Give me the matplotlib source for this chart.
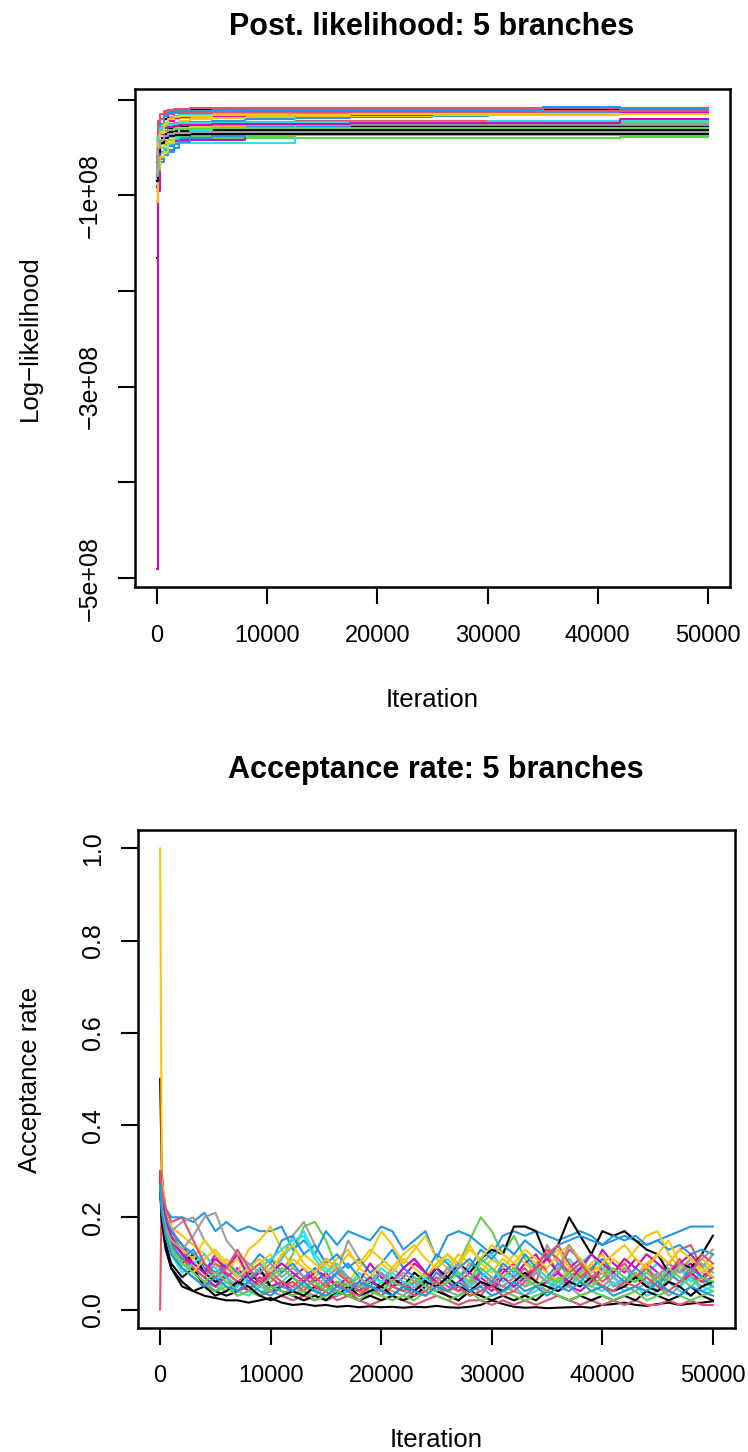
import matplotlib
matplotlib.use("Agg")
import matplotlib.pyplot as plt
from matplotlib import font_manager

# ---------------- data ----------------
r_palette = ["#000000", "#DF536B", "#61D04F", "#2297E6",
             "#28E2E5", "#CD0BBC", "#F5C710", "#9E9E9E"]

x_ticks = [0, 10000, 20000, 30000, 40000, 50000]
ll_yticks = [0, -1e8, -2e8, -3e8, -4e8, -5e8]
ll_ytick_labels = ["", "\u22121e+08", "", "\u22123e+08", "", "\u22125e+08"]
acc_yticks = [0.0, 0.2, 0.4, 0.6, 0.8, 1.0]
acc_ytick_labels = ["0.0", "0.2", "0.4", "0.6", "0.8", "1.0"]

# log-likelihood traces (units of 1e8), sampled at ll_iter, drawn as steps
ll_iter = [0, 100, 300, 600, 1000, 1500, 2000, 3000, 5000, 8000,
           12500, 17500, 25000, 30000, 35000, 42000, 50000]
ll_traces = [
    [-1.65, -0.66, -0.45, -0.33, -0.30, -0.29, -0.28, -0.28, -0.28, -0.28, -0.28, -0.28, -0.28, -0.28, -0.28, -0.28, -0.28],
    [-0.75, -0.30, -0.20, -0.14, -0.12, -0.11, -0.10, -0.10, -0.095, -0.09, -0.09, -0.09, -0.09, -0.088, -0.088, -0.088, -0.088],
    [-0.80, -0.52, -0.46, -0.43, -0.42, -0.41, -0.41, -0.40, -0.40, -0.40, -0.40, -0.40, -0.40, -0.40, -0.40, -0.39, -0.39],
    [-0.85, -0.60, -0.55, -0.52, -0.48, -0.40, -0.30, -0.25, -0.22, -0.20, -0.19, -0.18, -0.17, -0.16, -0.13, -0.12, -0.12],
    [-0.90, -0.60, -0.50, -0.47, -0.46, -0.45, -0.45, -0.45, -0.45, -0.45, -0.32, -0.32, -0.31, -0.31, -0.30, -0.30, -0.30],
    [-4.90, -0.95, -0.60, -0.50, -0.45, -0.43, -0.42, -0.42, -0.42, -0.35, -0.35, -0.34, -0.34, -0.33, -0.33, -0.33, -0.33],
    [-1.07, -0.70, -0.50, -0.45, -0.38, -0.30, -0.22, -0.20, -0.19, -0.18, -0.17, -0.17, -0.16, -0.15, -0.15, -0.14, -0.14],
    [-0.70, -0.35, -0.25, -0.20, -0.18, -0.17, -0.16, -0.15, -0.15, -0.14, -0.14, -0.13, -0.13, -0.13, -0.12, -0.12, -0.12],
    [-0.65, -0.35, -0.25, -0.20, -0.15, -0.13, -0.11, -0.11, -0.11, -0.11, -0.11, -0.11, -0.11, -0.11, -0.11, -0.11, -0.11],
    [-0.60, -0.22, -0.15, -0.12, -0.11, -0.10, -0.095, -0.09, -0.09, -0.085, -0.085, -0.085, -0.085, -0.085, -0.085, -0.085, -0.085],
    [-0.78, -0.48, -0.42, -0.40, -0.39, -0.38, -0.38, -0.38, -0.38, -0.38, -0.37, -0.37, -0.37, -0.37, -0.37, -0.37, -0.37],
    [-0.92, -0.75, -0.65, -0.58, -0.55, -0.50, -0.44, -0.40, -0.38, -0.36, -0.35, -0.34, -0.34, -0.34, -0.34, -0.33, -0.33],
    [-0.80, -0.45, -0.35, -0.25, -0.20, -0.18, -0.16, -0.16, -0.15, -0.14, -0.13, -0.13, -0.13, -0.12, -0.12, -0.12, -0.12],
    [-0.85, -0.50, -0.42, -0.38, -0.35, -0.33, -0.32, -0.32, -0.31, -0.31, -0.31, -0.30, -0.30, -0.30, -0.30, -0.30, -0.30],
    [-0.75, -0.40, -0.30, -0.24, -0.21, -0.20, -0.19, -0.18, -0.18, -0.17, -0.17, -0.17, -0.16, -0.16, -0.16, -0.15, -0.15],
    [-0.85, -0.55, -0.45, -0.40, -0.38, -0.37, -0.36, -0.36, -0.35, -0.35, -0.35, -0.35, -0.35, -0.35, -0.35, -0.35, -0.35],
    [-0.80, -0.50, -0.40, -0.36, -0.34, -0.33, -0.33, -0.32, -0.32, -0.32, -0.32, -0.32, -0.32, -0.32, -0.32, -0.32, -0.32],
    [-0.70, -0.35, -0.28, -0.26, -0.25, -0.24, -0.24, -0.23, -0.23, -0.23, -0.22, -0.22, -0.22, -0.22, -0.22, -0.22, -0.22],
    [-0.75, -0.40, -0.32, -0.28, -0.26, -0.25, -0.24, -0.24, -0.24, -0.23, -0.23, -0.23, -0.23, -0.23, -0.23, -0.23, -0.23],
    [-0.90, -0.70, -0.62, -0.58, -0.52, -0.46, -0.40, -0.36, -0.30, -0.28, -0.27, -0.26, -0.26, -0.26, -0.26, -0.26, -0.26],
    [-0.85, -0.62, -0.56, -0.50, -0.45, -0.40, -0.35, -0.32, -0.30, -0.29, -0.13, -0.13, -0.12, -0.12, -0.12, -0.12, -0.12],
    [-0.90, -0.60, -0.45, -0.30, -0.22, -0.19, -0.18, -0.17, -0.17, -0.16, -0.16, -0.16, -0.15, -0.15, -0.15, -0.14, -0.13],
    [-0.95, -0.72, -0.60, -0.55, -0.45, -0.36, -0.30, -0.28, -0.27, -0.26, -0.25, -0.24, -0.24, -0.23, -0.23, -0.22, -0.22],
    [-0.70, -0.38, -0.30, -0.28, -0.27, -0.27, -0.26, -0.26, -0.26, -0.26, -0.26, -0.25, -0.25, -0.25, -0.25, -0.25, -0.25],
    [-0.85, -0.55, -0.45, -0.40, -0.38, -0.37, -0.37, -0.36, -0.36, -0.36, -0.36, -0.36, -0.36, -0.36, -0.36, -0.36, -0.36],
    [-0.65, -0.30, -0.20, -0.16, -0.15, -0.14, -0.14, -0.14, -0.13, -0.13, -0.13, -0.13, -0.13, -0.13, -0.12, -0.12, -0.12],
    [-0.80, -0.45, -0.36, -0.33, -0.32, -0.31, -0.31, -0.31, -0.30, -0.30, -0.30, -0.30, -0.30, -0.30, -0.30, -0.30, -0.30],
    [-0.75, -0.40, -0.25, -0.17, -0.14, -0.13, -0.12, -0.12, -0.11, -0.11, -0.11, -0.11, -0.11, -0.11, -0.08, -0.10, -0.10],
    [-0.70, -0.38, -0.30, -0.27, -0.26, -0.25, -0.24, -0.24, -0.24, -0.24, -0.24, -0.24, -0.24, -0.22, -0.22, -0.22, -0.22],
    [-0.80, -0.45, -0.36, -0.30, -0.28, -0.27, -0.26, -0.26, -0.25, -0.25, -0.25, -0.24, -0.24, -0.24, -0.24, -0.20, -0.20],
    [-0.75, -0.45, -0.35, -0.25, -0.20, -0.18, -0.17, -0.17, -0.16, -0.16, -0.16, -0.15, -0.15, -0.15, -0.15, -0.15, -0.15],
    [-0.80, -0.50, -0.42, -0.38, -0.36, -0.35, -0.35, -0.34, -0.34, -0.34, -0.34, -0.34, -0.34, -0.34, -0.34, -0.34, -0.34],
]

# acceptance-rate traces sampled at acc_iter
acc_iter = [0, 150, 500, 1000] + list(range(2000, 50001, 1000))
acc_traces = [
    [0.50, 0.30, 0.15, 0.09,
     0.05, 0.04, 0.03, 0.025, 0.02, 0.02, 0.015, 0.02, 0.025, 0.015,
     0.01, 0.012, 0.008, 0.01, 0.006, 0.008, 0.005, 0.007, 0.005, 0.006,
     0.004, 0.006, 0.005, 0.008, 0.005, 0.004, 0.006, 0.01, 0.02, 0.012,
     0.006, 0.004, 0.005, 0.003, 0.004, 0.005, 0.006, 0.004, 0.01, 0.012,
     0.015, 0.01, 0.008, 0.012, 0.015, 0.01, 0.013, 0.015, 0.018],
    [0.0, 0.28, 0.22, 0.18,
     0.12, 0.08, 0.10, 0.06, 0.07, 0.04, 0.05, 0.03, 0.04, 0.06,
     0.04, 0.03, 0.05, 0.02, 0.03, 0.04, 0.02, 0.03, 0.05, 0.03,
     0.02, 0.04, 0.03, 0.05, 0.03, 0.02, 0.04, 0.03, 0.06, 0.04,
     0.05, 0.07, 0.10, 0.12, 0.08, 0.13, 0.11, 0.07, 0.09, 0.05,
     0.06, 0.08, 0.05, 0.07, 0.10, 0.13, 0.14, 0.09, 0.12],
    [0.30, 0.25, 0.20, 0.16,
     0.13, 0.09, 0.07, 0.05, 0.06, 0.04, 0.05, 0.03, 0.06, 0.08,
     0.12, 0.18, 0.19, 0.15, 0.09, 0.06, 0.05, 0.04, 0.06, 0.05,
     0.04, 0.06, 0.08, 0.05, 0.07, 0.10, 0.15, 0.20, 0.17, 0.12,
     0.16, 0.11, 0.08, 0.06, 0.05, 0.07, 0.09, 0.06, 0.05, 0.04,
     0.06, 0.08, 0.05, 0.07, 0.06, 0.09, 0.07, 0.10, 0.08],
    [0.30, 0.25, 0.22, 0.20,
     0.20, 0.19, 0.21, 0.17, 0.19, 0.17, 0.18, 0.17, 0.17, 0.18,
     0.13, 0.15, 0.12, 0.17, 0.14, 0.17, 0.16, 0.15, 0.18, 0.17,
     0.13, 0.15, 0.17, 0.11, 0.16, 0.17, 0.16, 0.14, 0.12, 0.16,
     0.17, 0.16, 0.17, 0.16, 0.15, 0.16, 0.17, 0.16, 0.14, 0.15,
     0.16, 0.15, 0.14, 0.15, 0.16, 0.17, 0.18, 0.18, 0.18],
    [0.28, 0.24, 0.19, 0.15,
     0.12, 0.10, 0.08, 0.06, 0.09, 0.07, 0.10, 0.08, 0.07, 0.11,
     0.14, 0.17, 0.12, 0.09, 0.07, 0.05, 0.08, 0.06, 0.09, 0.07,
     0.05, 0.08, 0.06, 0.09, 0.11, 0.08, 0.06, 0.10, 0.12, 0.09,
     0.07, 0.10, 0.08, 0.06, 0.09, 0.11, 0.08, 0.12, 0.10, 0.07,
     0.09, 0.06, 0.08, 0.10, 0.07, 0.09, 0.06, 0.08, 0.07],
    [0.30, 0.26, 0.21, 0.17,
     0.14, 0.10, 0.08, 0.12, 0.07, 0.09, 0.06, 0.08, 0.07, 0.05,
     0.07, 0.09, 0.06, 0.08, 0.05, 0.07, 0.04, 0.06, 0.08, 0.05,
     0.07, 0.10, 0.08, 0.06, 0.09, 0.07, 0.05, 0.08, 0.06, 0.09,
     0.07, 0.10, 0.12, 0.08, 0.06, 0.09, 0.11, 0.08, 0.13, 0.10,
     0.08, 0.11, 0.09, 0.12, 0.10, 0.08, 0.10, 0.07, 0.09],
    [1.00, 0.28, 0.22, 0.18,
     0.16, 0.14, 0.12, 0.09, 0.11, 0.08, 0.13, 0.15, 0.18, 0.13,
     0.09, 0.12, 0.10, 0.08, 0.11, 0.13, 0.09, 0.12, 0.17, 0.14,
     0.10, 0.13, 0.16, 0.11, 0.09, 0.12, 0.10, 0.08, 0.11, 0.09,
     0.12, 0.10, 0.08, 0.11, 0.13, 0.09, 0.07, 0.10, 0.12, 0.08,
     0.10, 0.13, 0.16, 0.17, 0.12, 0.09, 0.11, 0.08, 0.10],
    [0.28, 0.24, 0.20, 0.17,
     0.19, 0.20, 0.15, 0.12, 0.09, 0.07, 0.08, 0.06, 0.09, 0.11,
     0.16, 0.19, 0.14, 0.10, 0.08, 0.15, 0.11, 0.08, 0.06, 0.09,
     0.07, 0.05, 0.08, 0.06, 0.09, 0.07, 0.10, 0.08, 0.06, 0.07,
     0.09, 0.06, 0.08, 0.14, 0.10, 0.07, 0.09, 0.06, 0.08, 0.05,
     0.07, 0.06, 0.09, 0.07, 0.10, 0.08, 0.11, 0.09, 0.12],
    [0.30, 0.24, 0.18, 0.13,
     0.10, 0.12, 0.08, 0.06, 0.07, 0.05, 0.08, 0.06, 0.04, 0.05,
     0.07, 0.05, 0.04, 0.06, 0.03, 0.05, 0.04, 0.06, 0.05, 0.07,
     0.05, 0.08, 0.06, 0.09, 0.07, 0.10, 0.08, 0.11, 0.13, 0.12,
     0.18, 0.18, 0.17, 0.11, 0.14, 0.20, 0.16, 0.12, 0.17, 0.16,
     0.17, 0.15, 0.13, 0.12, 0.08, 0.10, 0.09, 0.12, 0.16],
    [0.28, 0.24, 0.19, 0.15,
     0.10, 0.08, 0.06, 0.05, 0.07, 0.04, 0.05, 0.03, 0.04, 0.03,
     0.02, 0.03, 0.02, 0.04, 0.02, 0.03, 0.02, 0.01, 0.02, 0.03,
     0.02, 0.01, 0.02, 0.03, 0.02, 0.01, 0.02, 0.02, 0.01, 0.02,
     0.01, 0.02, 0.01, 0.02, 0.03, 0.02, 0.01, 0.02, 0.01, 0.02,
     0.01, 0.02, 0.01, 0.01, 0.02, 0.01, 0.02, 0.01, 0.01],
    [0.28, 0.23, 0.18, 0.14,
     0.11, 0.08, 0.06, 0.05, 0.04, 0.06, 0.04, 0.03, 0.05, 0.04,
     0.03, 0.05, 0.04, 0.06, 0.04, 0.03, 0.05, 0.04, 0.03, 0.05,
     0.04, 0.06, 0.08, 0.05, 0.04, 0.06, 0.05, 0.09, 0.07, 0.05,
     0.07, 0.05, 0.06, 0.04, 0.07, 0.05, 0.08, 0.06, 0.10, 0.07,
     0.05, 0.08, 0.06, 0.04, 0.07, 0.10, 0.08, 0.06, 0.05],
    [0.29, 0.24, 0.20, 0.17,
     0.14, 0.12, 0.10, 0.08, 0.10, 0.07, 0.09, 0.12, 0.10, 0.15,
     0.16, 0.12, 0.14, 0.10, 0.12, 0.09, 0.11, 0.08, 0.10, 0.13,
     0.09, 0.11, 0.08, 0.12, 0.10, 0.07, 0.09, 0.13, 0.11, 0.14,
     0.12, 0.15, 0.13, 0.11, 0.14, 0.15, 0.16, 0.15, 0.14, 0.16,
     0.15, 0.16, 0.14, 0.15, 0.13, 0.14, 0.12, 0.13, 0.12],
    [0.27, 0.22, 0.17, 0.13,
     0.09, 0.07, 0.05, 0.04, 0.06, 0.04, 0.03, 0.05, 0.04, 0.06,
     0.08, 0.06, 0.04, 0.05, 0.03, 0.04, 0.06, 0.04, 0.03, 0.05,
     0.04, 0.03, 0.05, 0.04, 0.06, 0.05, 0.03, 0.04, 0.06, 0.04,
     0.05, 0.03, 0.04, 0.06, 0.04, 0.05, 0.07, 0.05, 0.04, 0.06,
     0.04, 0.05, 0.03, 0.04, 0.06, 0.04, 0.03, 0.05, 0.04],
    [0.29, 0.24, 0.19, 0.16,
     0.12, 0.09, 0.07, 0.05, 0.08, 0.06, 0.04, 0.07, 0.05, 0.06,
     0.04, 0.06, 0.09, 0.07, 0.05, 0.04, 0.06, 0.10, 0.07, 0.05,
     0.06, 0.04, 0.07, 0.09, 0.06, 0.04, 0.05, 0.07, 0.05, 0.08,
     0.10, 0.07, 0.05, 0.06, 0.08, 0.05, 0.04, 0.06, 0.09, 0.07,
     0.05, 0.07, 0.10, 0.08, 0.06, 0.05, 0.08, 0.06, 0.07],
    [0.27, 0.22, 0.18, 0.15,
     0.13, 0.11, 0.15, 0.12, 0.09, 0.11, 0.08, 0.10, 0.12, 0.08,
     0.11, 0.09, 0.07, 0.10, 0.08, 0.06, 0.09, 0.07, 0.10, 0.08,
     0.11, 0.09, 0.07, 0.10, 0.12, 0.09, 0.14, 0.10, 0.08, 0.11,
     0.09, 0.12, 0.10, 0.08, 0.06, 0.09, 0.07, 0.10, 0.08, 0.11,
     0.09, 0.07, 0.10, 0.12, 0.15, 0.10, 0.08, 0.11, 0.09],
    [0.26, 0.21, 0.17, 0.14,
     0.10, 0.08, 0.06, 0.04, 0.05, 0.03, 0.04, 0.06, 0.04, 0.03,
     0.05, 0.04, 0.03, 0.05, 0.04, 0.06, 0.04, 0.03, 0.05, 0.04,
     0.03, 0.05, 0.04, 0.06, 0.04, 0.03, 0.05, 0.04, 0.06, 0.05,
     0.04, 0.03, 0.05, 0.04, 0.06, 0.05, 0.03, 0.04, 0.05, 0.07,
     0.05, 0.04, 0.06, 0.05, 0.03, 0.05, 0.07, 0.05, 0.06],
    [0.27, 0.20, 0.14, 0.10,
     0.07, 0.09, 0.05, 0.04, 0.03, 0.04, 0.06, 0.09, 0.05, 0.04,
     0.03, 0.02, 0.03, 0.02, 0.04, 0.03, 0.02, 0.03, 0.02, 0.03,
     0.02, 0.03, 0.05, 0.04, 0.03, 0.02, 0.04, 0.03, 0.02, 0.03,
     0.02, 0.03, 0.02, 0.04, 0.03, 0.02, 0.03, 0.02, 0.03, 0.02,
     0.03, 0.02, 0.04, 0.03, 0.02, 0.03, 0.05, 0.03, 0.02],
    [0.27, 0.22, 0.18, 0.14,
     0.11, 0.09, 0.07, 0.10, 0.08, 0.06, 0.08, 0.10, 0.07, 0.05,
     0.06, 0.04, 0.07, 0.05, 0.08, 0.06, 0.04, 0.05, 0.03, 0.05,
     0.04, 0.06, 0.05, 0.07, 0.05, 0.04, 0.06, 0.08, 0.06, 0.05,
     0.07, 0.09, 0.06, 0.12, 0.14, 0.10, 0.07, 0.09, 0.06, 0.08,
     0.10, 0.07, 0.09, 0.06, 0.08, 0.11, 0.07, 0.06, 0.09],
    [0.26, 0.21, 0.16, 0.12,
     0.09, 0.07, 0.05, 0.04, 0.05, 0.03, 0.04, 0.03, 0.05, 0.04,
     0.03, 0.04, 0.02, 0.03, 0.04, 0.03, 0.02, 0.04, 0.03, 0.02,
     0.03, 0.02, 0.04, 0.03, 0.02, 0.03, 0.04, 0.02, 0.03, 0.04,
     0.03, 0.02, 0.03, 0.04, 0.03, 0.02, 0.03, 0.04, 0.03, 0.02,
     0.03, 0.04, 0.02, 0.03, 0.04, 0.03, 0.02, 0.03, 0.04],
    [0.28, 0.23, 0.18, 0.14,
     0.11, 0.13, 0.09, 0.07, 0.10, 0.08, 0.06, 0.09, 0.11, 0.08,
     0.10, 0.07, 0.09, 0.06, 0.08, 0.10, 0.07, 0.05, 0.08, 0.06,
     0.09, 0.07, 0.05, 0.08, 0.06, 0.09, 0.11, 0.08, 0.06, 0.10,
     0.08, 0.12, 0.09, 0.07, 0.10, 0.08, 0.06, 0.09, 0.11, 0.08,
     0.06, 0.09, 0.07, 0.05, 0.08, 0.06, 0.09, 0.07, 0.05],
    [0.27, 0.21, 0.16, 0.12,
     0.08, 0.10, 0.12, 0.09, 0.07, 0.05, 0.07, 0.09, 0.11, 0.13,
     0.15, 0.16, 0.11, 0.08, 0.10, 0.07, 0.05, 0.07, 0.06, 0.08,
     0.06, 0.05, 0.07, 0.04, 0.06, 0.08, 0.05, 0.07, 0.09, 0.06,
     0.08, 0.06, 0.09, 0.07, 0.05, 0.08, 0.10, 0.12, 0.09, 0.07,
     0.05, 0.07, 0.06, 0.04, 0.06, 0.05, 0.07, 0.04, 0.05],
    [0.28, 0.23, 0.19, 0.15,
     0.12, 0.10, 0.08, 0.11, 0.09, 0.12, 0.07, 0.05, 0.08, 0.10,
     0.08, 0.06, 0.08, 0.11, 0.09, 0.07, 0.05, 0.07, 0.04, 0.06,
     0.09, 0.11, 0.08, 0.06, 0.04, 0.06, 0.08, 0.06, 0.04, 0.07,
     0.05, 0.07, 0.09, 0.11, 0.08, 0.06, 0.09, 0.12, 0.10, 0.08,
     0.11, 0.09, 0.12, 0.10, 0.08, 0.10, 0.12, 0.09, 0.07],
    [0.26, 0.21, 0.17, 0.13,
     0.10, 0.08, 0.11, 0.13, 0.10, 0.07, 0.09, 0.11, 0.08, 0.12,
     0.14, 0.10, 0.08, 0.11, 0.09, 0.12, 0.10, 0.13, 0.11, 0.09,
     0.12, 0.14, 0.11, 0.09, 0.12, 0.10, 0.13, 0.11, 0.14, 0.12,
     0.10, 0.13, 0.11, 0.09, 0.12, 0.14, 0.11, 0.08, 0.10, 0.12,
     0.14, 0.11, 0.09, 0.12, 0.10, 0.13, 0.11, 0.09, 0.07],
    [0.27, 0.22, 0.18, 0.15,
     0.13, 0.16, 0.20, 0.21, 0.15, 0.12, 0.10, 0.08, 0.10, 0.07,
     0.09, 0.07, 0.05, 0.07, 0.09, 0.07, 0.05, 0.06, 0.08, 0.06,
     0.08, 0.06, 0.04, 0.06, 0.08, 0.10, 0.07, 0.05, 0.07, 0.05,
     0.07, 0.05, 0.08, 0.06, 0.09, 0.14, 0.10, 0.07, 0.05, 0.07,
     0.09, 0.07, 0.05, 0.08, 0.06, 0.10, 0.08, 0.11, 0.13],
    [0.26, 0.19, 0.13, 0.09,
     0.06, 0.04, 0.05, 0.03, 0.04, 0.06, 0.05, 0.03, 0.02, 0.03,
     0.04, 0.03, 0.05, 0.04, 0.06, 0.05, 0.03, 0.04, 0.05, 0.03,
     0.05, 0.04, 0.06, 0.05, 0.07, 0.05, 0.04, 0.06, 0.05, 0.04,
     0.06, 0.08, 0.06, 0.05, 0.04, 0.06, 0.05, 0.07, 0.05, 0.04,
     0.05, 0.07, 0.05, 0.04, 0.06, 0.05, 0.03, 0.05, 0.06],
    [0.30, 0.26, 0.22, 0.19,
     0.20, 0.15, 0.10, 0.07, 0.09, 0.13, 0.09, 0.06, 0.08, 0.06,
     0.05, 0.07, 0.05, 0.04, 0.06, 0.04, 0.03, 0.05, 0.04, 0.06,
     0.05, 0.03, 0.04, 0.06, 0.04, 0.05, 0.03, 0.04, 0.05, 0.03,
     0.04, 0.06, 0.09, 0.13, 0.11, 0.08, 0.10, 0.07, 0.05, 0.04,
     0.06, 0.05, 0.07, 0.05, 0.04, 0.06, 0.08, 0.12, 0.10],
    [0.27, 0.22, 0.17, 0.13,
     0.10, 0.08, 0.06, 0.08, 0.06, 0.04, 0.06, 0.05, 0.07, 0.09,
     0.07, 0.05, 0.06, 0.04, 0.06, 0.05, 0.07, 0.05, 0.04, 0.06,
     0.05, 0.07, 0.05, 0.04, 0.06, 0.08, 0.06, 0.11, 0.09, 0.07,
     0.09, 0.07, 0.05, 0.07, 0.06, 0.08, 0.06, 0.05, 0.07, 0.09,
     0.07, 0.06, 0.08, 0.06, 0.09, 0.07, 0.05, 0.07, 0.06],
    [0.27, 0.21, 0.16, 0.12,
     0.09, 0.07, 0.05, 0.07, 0.05, 0.04, 0.06, 0.04, 0.03, 0.05,
     0.04, 0.06, 0.04, 0.03, 0.05, 0.04, 0.06, 0.05, 0.04, 0.03,
     0.05, 0.04, 0.03, 0.05, 0.04, 0.06, 0.04, 0.05, 0.03, 0.04,
     0.06, 0.04, 0.05, 0.03, 0.05, 0.04, 0.06, 0.04, 0.05, 0.03,
     0.04, 0.05, 0.04, 0.06, 0.04, 0.03, 0.05, 0.04, 0.03],
]

ll_title = "Post. likelihood: 5 branches"
acc_title = "Acceptance rate: 5 branches"
x_label = "Iteration"
ll_ylabel = "Log\u2212likelihood"
acc_ylabel = "Acceptance rate"

# ---------------- style ----------------
avail = {f.name for f in font_manager.fontManager.ttflist}
fam = ["Liberation Sans Narrow", "Liberation Sans", "DejaVu Sans"]
fam = [f for f in fam if f in avail] or ["DejaVu Sans"]
plt.rcParams["font.family"] = fam

W, H = 748, 1452
fig = plt.figure(figsize=(W / 100, H / 100), dpi=100)

def px_axes(l, t, r, b):
    return fig.add_axes([l / W, 1 - b / H, (r - l) / W, (b - t) / H])

ax1 = px_axes(135, 89, 730, 587)
ax2 = px_axes(138, 830, 735, 1328)

LW = 1.5
for i, tr in enumerate(ll_traces):
    ax1.plot(ll_iter, [v * 1e8 for v in tr], drawstyle="steps-post",
             color=r_palette[i % 8], lw=LW)
for i, tr in enumerate(acc_traces):
    ax2.plot(acc_iter, tr, color=r_palette[i % 8], lw=LW)

def r_lims(vals):
    lo, hi = min(vals), max(vals)
    pad = 0.04 * (hi - lo)
    return lo - pad, hi + pad

ax1.set_xlim(*r_lims(ll_iter))
ax1.set_ylim(*r_lims([v * 1e8 for tr in ll_traces for v in tr]))
ax2.set_xlim(*r_lims(acc_iter))
ax2.set_ylim(*r_lims([v for tr in acc_traces for v in tr]))

TICK_FS = 17
for ax, yt, ytl in [(ax1, ll_yticks, ll_ytick_labels),
                    (ax2, acc_yticks, acc_ytick_labels)]:
    ax.set_xticks(x_ticks)
    ax.set_xticklabels([str(t) for t in x_ticks], fontsize=TICK_FS)
    ax.set_yticks(yt)
    ax.set_yticklabels(ytl, fontsize=18, rotation=90, va="center")
    ax.tick_params(direction="out", length=12, width=1.5)
    ax.tick_params(axis="x", pad=15)
    ax.tick_params(axis="y", pad=12)
    for s in ax.spines.values():
        s.set_linewidth(1.8)

fig.text(432 / W, 1 - 27 / H, ll_title, ha="center", va="center",
         fontsize=22, fontweight="bold")
fig.text(436 / W, 1 - 770 / H, acc_title, ha="center", va="center",
         fontsize=22, fontweight="bold")
fig.text(432 / W, 1 - 700 / H, x_label, ha="center", va="center", fontsize=18.5)
fig.text(436 / W, 1 - 1440 / H, x_label, ha="center", va="center", fontsize=18.5)
fig.text(30 / W, 1 - 338 / H, ll_ylabel, ha="center", va="center",
         rotation=90, fontsize=18.5)
fig.text(30 / W, 1 - 1080 / H, acc_ylabel, ha="center", va="center",
         rotation=90, fontsize=18.5)

fig.savefig("out.png", dpi=100)
